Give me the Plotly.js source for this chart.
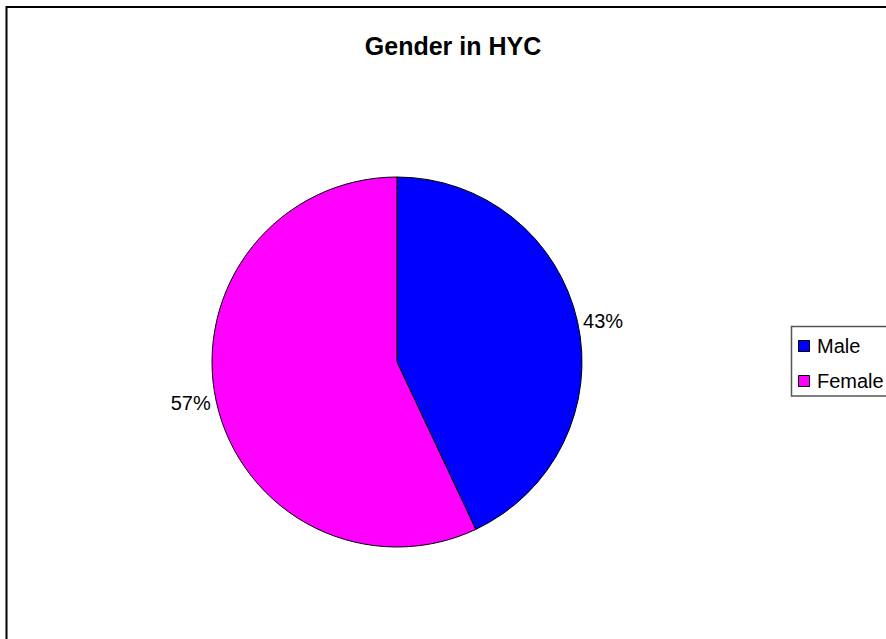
<!DOCTYPE html>
<html>
<head>
<meta charset="utf-8">
<script src="https://cdn.plot.ly/plotly-3.0.1.min.js"></script>
<style>
  html, body { margin: 0; padding: 0; background: #fff; }
  #chart { width: 886px; height: 639px; }
</style>
</head>
<body>
<div id="chart"></div>
<script>
// Data
const categories = ["Male", "Female"];
const values = [43, 57];
const colors = ["#0000FF", "#FF00FF"];
const chartTitle = "Gender in HYC";

const W = 886, H = 639;
const px = x => x / W;
const py = y => 1 - y / H;
const FONT = "Liberation Sans, Arial, sans-serif";

const trace = {
  type: "pie",
  labels: categories,
  values: values,
  sort: false,
  direction: "clockwise",
  rotation: 0,
  marker: { colors: colors, line: { color: "#000000", width: 1 } },
  textinfo: "percent",
  textposition: "outside",
  texttemplate: "%{percent:.0%}",
  textfont: { family: FONT, size: 20, color: "#000000" },
  outsidetextfont: { family: FONT, size: 20, color: "#000000" },
  domain: { x: [px(212), px(582)], y: [py(547), py(177)] },
  hoverinfo: "label+percent",
  showlegend: false
};

// Manual legend built from data arrays
const shapes = [
  // chart frame (left & top visible)
  { type: "rect", xref: "paper", yref: "paper", x0: px(6.5), x1: 1.05, y0: -0.05, y1: py(7), line: { color: "#000", width: 2 }, fillcolor: "rgba(0,0,0,0)" },
  // legend box
  { type: "rect", xref: "paper", yref: "paper", x0: px(791.5), x1: 1.05, y0: py(396), y1: py(326.5), line: { color: "#555", width: 1.5 }, fillcolor: "rgba(0,0,0,0)" }
];
const annotations = [];
const rowY = [346, 381];
categories.forEach((c, i) => {
  shapes.push({ type: "rect", xref: "paper", yref: "paper",
    x0: px(798.5), x1: px(809.5), y0: py(rowY[i] + 5.5), y1: py(rowY[i] - 5.5),
    line: { color: "#000", width: 1 }, fillcolor: colors[i] });
  annotations.push({ xref: "paper", yref: "paper", x: px(815), y: py(rowY[i]),
    xanchor: "left", yanchor: "middle", showarrow: false, text: c,
    font: { family: FONT, size: 20, color: "#000" } });
});

const layout = {
  width: W, height: H,
  margin: { l: 0, r: 0, t: 0, b: 0 },
  paper_bgcolor: "#ffffff",
  title: {
    text: "<b>" + chartTitle + "</b>",
    x: px(453), xanchor: "center", xref: "paper",
    y: py(46), yanchor: "middle", yref: "paper",
    font: { family: FONT, size: 25, color: "#000" }
  },
  showlegend: false,
  shapes: shapes,
  annotations: annotations
};

Plotly.newPlot("chart", [trace], layout, { displayModeBar: false, staticPlot: true });
</script>
</body>
</html>
